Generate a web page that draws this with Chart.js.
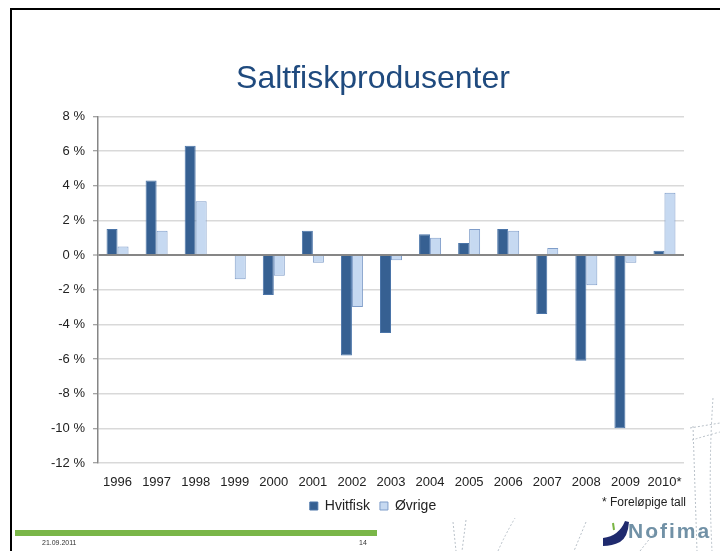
<!DOCTYPE html>
<html>
<head>
<meta charset="utf-8">
<script src="https://cdn.jsdelivr.net/npm/chart.js@4/dist/chart.umd.min.js"></script>
<style>
  html, body { margin: 0; padding: 0; background: #fff; overflow: hidden; }
  #wrap { position: relative; width: 720px; height: 551px; background: #fff; }
  #c { position: absolute; left: 0; top: 0; }
  .abs { position: absolute; }
  .txt { font-family: "Liberation Sans", Arial, sans-serif; white-space: nowrap; }
</style>
</head>
<body>
<div id="wrap">
  <canvas id="c" width="720" height="551"></canvas>
  <svg class="abs" style="left:0;top:0" width="720" height="551">
    <g fill="none" stroke="#b8c0c8" stroke-width="1" stroke-dasharray="2,2">
      <path d="M690 428 L720 423"/>
      <path d="M692 440 Q705 436 720 432"/>
      <path d="M693 426 L697 551"/>
      <path d="M713 398 Q708 470 712 551"/>
      <path d="M453 522 L456 551"/>
      <path d="M466 520 L462 551"/>
      <path d="M498 551 Q505 535 515 518"/>
      <path d="M586 522 L574 551"/>
      <path d="M640 551 L655 532"/>
    </g>
    <path d="M603 538 Q619 536 625 521 L629 522 Q628 537 620 542 Q612 546 603 546 Z" fill="#1f2a6e"/>
    <path d="M613 523 L614 530" stroke="#79b543" stroke-width="2"/>
  </svg>
  <div class="abs" style="left:10px;top:8px;width:710px;height:2px;background:#000"></div>
  <div class="abs" style="left:10px;top:8px;width:2px;height:543px;background:#000"></div>
  <div class="abs" style="left:15px;top:530px;width:362px;height:6px;background:#7ab648"></div>
  <div class="abs txt" style="left:42px;top:539px;font-size:7px;color:#333">21.09.2011</div>
  <div class="abs txt" style="left:359px;top:539px;font-size:7px;color:#333">14</div>
  <div class="abs txt" style="left:602px;top:495px;font-size:12px;color:#222">* Foreløpige tall</div>
  <div class="abs txt" style="left:628px;top:519px;font-size:21px;font-weight:bold;letter-spacing:2px;color:#7191a6">Nofima</div>
</div>
<script>
const years = ['1996','1997','1998','1999','2000','2001','2002','2003','2004','2005','2006','2007','2008','2009','2010*'];
const hvitfisk = [1.5, 4.3, 6.3, 0, -2.3, 1.4, -5.8, -4.5, 1.2, 0.7, 1.5, -3.4, -6.1, -10.0, 0.25];
const ovrige = [0.5, 1.4, 3.1, -1.4, -1.2, -0.45, -3.0, -0.3, 1.0, 1.5, 1.4, 0.4, -1.75, -0.45, 3.6];
const yTicks = [-12, -10, -8, -6, -4, -2, 0, 2, 4, 6, 8];
const seriesNames = ['Hvitfisk', 'Øvrige'];
const titleText = 'Saltfiskprodusenter';

const FONT = '"Liberation Sans", Arial, sans-serif';

// widen the y-scale label clip area so long labels ("-12 %") are not cut
const widenYLabels = {
  id: 'widenYLabels',
  afterLayout(chart) { chart.scales.y.left = 0; }
};

new Chart(document.getElementById('c'), {
  type: 'bar',
  data: {
    labels: years,
    datasets: [
      { label: seriesNames[0], data: hvitfisk, backgroundColor: '#366092', borderColor: '#4a74a8', borderWidth: 1, borderSkipped: 'start' },
      { label: seriesNames[1], data: ovrige, backgroundColor: '#c6d9f1', borderColor: '#7f9dc9', borderWidth: 1, borderSkipped: 'start' }
    ]
  },
  plugins: [widenYLabels],
  options: {
    responsive: false,
    animation: false,
    devicePixelRatio: 1,
    layout: { padding: { left: 62, right: 36, top: 0, bottom: 28 } },
    datasets: { bar: { categoryPercentage: 0.563, barPercentage: 1.0 } },
    plugins: {
      title: {
        display: true,
        text: titleText,
        color: '#1f4a7e',
        font: { family: FONT, size: 32, weight: 'normal' },
        padding: { top: 60, bottom: 18 }
      },
      legend: {
        position: 'bottom',
        labels: {
          boxWidth: 8, boxHeight: 8, padding: 10,
          color: '#222',
          font: { family: FONT, size: 14 }
        }
      },
      tooltip: { enabled: false }
    },
    scales: {
      x: {
        afterFit: (s) => { s.height = 26; },
        grid: { display: false, drawTicks: false },
        border: { display: false },
        ticks: { color: '#222', font: { family: FONT, size: 13 }, padding: 12, maxRotation: 0, autoSkip: false }
      },
      y: {
        min: Math.min(...yTicks),
        max: Math.max(...yTicks),
        afterFit: (s) => { s.width = 36; },
        afterBuildTicks: (s) => { s.ticks = yTicks.map(v => ({ value: v })); },
        border: { display: true, color: '#868686', width: 1.5 },
        grid: {
          color: (ctx) => (ctx.tick && ctx.tick.value === 0) ? '#868686' : '#d9d9d9',
          lineWidth: (ctx) => (ctx.tick && ctx.tick.value === 0) ? 2 : 1.5,
          tickColor: '#868686',
          tickLength: 5,
          tickWidth: 1
        },
        ticks: {
          color: '#222',
          font: { family: FONT, size: 13 },
          padding: 8,
          callback: (v) => v + ' %'
        }
      }
    }
  }
});
</script>
</body>
</html>
